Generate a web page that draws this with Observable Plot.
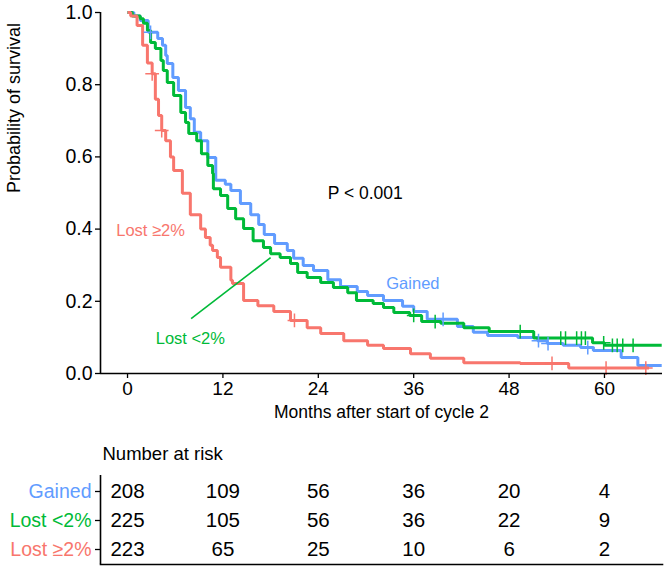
<!DOCTYPE html>
<html>
<head>
<meta charset="utf-8">
<script src="https://cdn.jsdelivr.net/npm/d3@7"></script>
<script src="https://cdn.jsdelivr.net/npm/@observablehq/plot@0.6"></script>
<style>
  html, body { margin: 0; padding: 0; background: #fff; }
  #chart { width: 665px; height: 568px; overflow: hidden; }
  #chart svg { display: block; }
</style>
</head>
<body>
<div id="chart"></div>
<script>
// ---------- data ----------
const groups = ["Gained", "Lost <2%", "Lost ≥2%"];
const colors = ["#619CFF", "#00BA38", "#F8766D"];

const gainedT = [0, 0.8, 1.6, 2.6, 3.8, 4.4, 4.8, 5.0, 5.7, 6.4, 7.3, 7.9, 8.4, 9.2, 10.1, 11.1, 12.3, 13.0, 14.2, 15.5, 16.5, 17.2, 18.5, 20.1, 20.9, 22.1, 23.4, 25.2, 26.8, 28.9, 30.2, 32.2, 34.6, 36.0, 37.7, 41.5, 43.5, 45.3, 49.1, 51.6, 52.8, 54.8, 57.0, 58.6, 62.1, 64.2, 67.2];
const gainedS = [1.0, 0.99, 0.978, 0.945, 0.928, 0.909, 0.881, 0.859, 0.82, 0.784, 0.737, 0.706, 0.668, 0.645, 0.598, 0.535, 0.524, 0.507, 0.471, 0.44, 0.413, 0.385, 0.36, 0.341, 0.319, 0.299, 0.285, 0.26, 0.241, 0.227, 0.216, 0.202, 0.186, 0.172, 0.15, 0.13, 0.114, 0.105, 0.10, 0.091, 0.083, 0.078, 0.072, 0.064, 0.044, 0.022, 0.022];
const gainedCensor = [2.9, 39.7, 51.7, 52.9, 57.9];

const lostSmallT = [0, 0.6, 1.6, 2.0, 2.5, 2.9, 3.5, 4.2, 4.5, 5.0, 5.8, 6.7, 7.3, 7.7, 8.7, 9.3, 10.1, 10.7, 10.8, 11.7, 12.6, 13.6, 14.6, 15.8, 17.1, 18.0, 19.2, 20.5, 21.4, 22.6, 24.3, 25.9, 27.7, 28.8, 30.9, 32.2, 33.5, 35.5, 37.0, 39.4, 42.3, 45.5, 51.1, 58.5, 60.0, 67.2];
const lostSmallS = [1.0, 0.99, 0.983, 0.97, 0.95, 0.917, 0.90, 0.867, 0.839, 0.806, 0.77, 0.723, 0.695, 0.665, 0.645, 0.609, 0.576, 0.554, 0.512, 0.493, 0.457, 0.429, 0.402, 0.368, 0.349, 0.332, 0.321, 0.305, 0.28, 0.266, 0.252, 0.238, 0.224, 0.202, 0.194, 0.183, 0.169, 0.161, 0.144, 0.139, 0.127, 0.116, 0.098, 0.085, 0.078, 0.078];
const lostSmallCensor = [36.0, 38.7, 49.4, 54.5, 55.1, 56.5, 57.1, 57.6, 59.9, 61.0, 61.6, 62.3, 63.6];

const lostLargeT = [0, 0.4, 1.2, 1.9, 2.5, 3.1, 3.5, 3.9, 4.3, 4.8, 5.4, 5.8, 6.9, 7.9, 9.2, 9.8, 10.4, 10.7, 11.3, 11.7, 13.0, 13.2, 14.6, 16.4, 18.4, 20.5, 22.6, 24.3, 27.2, 30.2, 32.2, 35.6, 38.1, 42.3, 49.4, 55.5, 65.6];
const lostLargeS = [1.0, 0.99, 0.964, 0.909, 0.86, 0.83, 0.76, 0.715, 0.673, 0.645, 0.6, 0.562, 0.499, 0.44, 0.40, 0.377, 0.355, 0.341, 0.321, 0.294, 0.258, 0.249, 0.202, 0.188, 0.172, 0.147, 0.127, 0.111, 0.091, 0.078, 0.069, 0.055, 0.042, 0.030, 0.028, 0.015, 0.015];
const lostLargeCensor = [3.1, 4.3, 21.0, 53.4, 60.2, 65.2];

const riskTimes = [0, 12, 24, 36, 48, 60];
const riskGained = [208, 109, 56, 36, 20, 4];
const riskLostSmall = [225, 105, 56, 36, 22, 9];
const riskLostLarge = [223, 65, 25, 10, 6, 2];

const yTicks = [0, 0.2, 0.4, 0.6, 0.8, 1.0];
const pText = "P < 0.001";
const xTitle = "Months after start of cycle 2";
const yTitle = "Probability of survival";
const riskTitle = "Number at risk";

// ---------- build tables ----------
const xDomain = [-3.4, 67.3];
const FONT = "'Liberation Sans', Arial, Helvetica, sans-serif";
function pts(T, S) { return T.map((t, i) => ({t, s: S[i]})); }
function stepAt(T, S, t) { let v = S[0]; for (let i = 0; i < T.length; i++) if (T[i] <= t) v = S[i]; return v; }
function cens(T, S, C) { return C.map(t => ({t, s: stepAt(T, S, t)})); }

const series = [
  {pts: pts(gainedT, gainedS), c: cens(gainedT, gainedS, gainedCensor), color: colors[0]},
  {pts: pts(lostSmallT, lostSmallS), c: cens(lostSmallT, lostSmallS, lostSmallCensor), color: colors[1]},
  {pts: pts(lostLargeT, lostLargeS), c: cens(lostLargeT, lostLargeS, lostLargeCensor), color: colors[2]}
];

const labels = [
  {text: "Lost ≥2%", x: 2.9, y: 0.396, color: colors[2], size: 16.5},
  {text: "Lost <2%", x: 7.9, y: 0.097, color: colors[1], size: 16.5},
  {text: "Gained", x: 35.9, y: 0.249, color: colors[0], size: 16.5},
  {text: pText, x: 29.9, y: 0.5, color: "black", size: 17.5}
];
const pointer = [{x1: 8.0, y1: 0.152, x2: 18.0, y2: 0.321}];

const lineMarks = [];
for (const s of series) {
  lineMarks.push(Plot.line(s.pts, {x: "t", y: "s", stroke: s.color, strokeWidth: 3, curve: "step-after", strokeLinejoin: "miter", strokeLinecap: "butt"}));
}
for (const s of series) {
  lineMarks.push(Plot.dot(s.c, {x: "t", y: "s", symbol: "plus", r: 4.5, stroke: s.color, strokeWidth: 1.5}));
}

const main = Plot.plot({
  width: 665, height: 428,
  marginTop: 12, marginLeft: 100, marginRight: 3, marginBottom: 55,
  style: {fontFamily: FONT, fontSize: "19px", color: "black", background: "white"},
  x: {domain: xDomain},
  y: {domain: [0, 1]},
  marks: [
    Plot.axisX({ticks: riskTimes, tickSize: 5, tickPadding: 3, strokeWidth: 1.3, fontSize: 19, label: null}),
    Plot.axisY({ticks: yTicks, tickFormat: d3.format(".1f"), tickSize: 5, tickPadding: 3, strokeWidth: 1.3, fontSize: 19.5, label: null}),
    Plot.text([xTitle], {text: d => d, frameAnchor: "bottom", dy: 44, fontSize: 17.5, fill: "black"}),
    Plot.text([yTitle], {text: d => d, frameAnchor: "left", dx: -86, rotate: -90, fontSize: 18, fill: "black"}),
    ...lineMarks,
    Plot.link(pointer, {x1: "x1", y1: "y1", x2: "x2", y2: "y2", stroke: colors[1], strokeWidth: 1.6}),
    Plot.text(labels, {x: "x", y: "y", text: "text", fill: d => d.color, fontSize: d => d.size}),
    Plot.ruleX([xDomain[0]], {stroke: "black", strokeWidth: 1.6}),
    Plot.ruleY([0], {stroke: "black", strokeWidth: 1.6})
  ]
});

const risk = [];
riskTimes.forEach((t, i) => {
  risk.push({t, g: groups[0], n: riskGained[i]});
  risk.push({t, g: groups[1], n: riskLostSmall[i]});
  risk.push({t, g: groups[2], n: riskLostLarge[i]});
});

const table = Plot.plot({
  width: 665, height: 140,
  marginTop: 47, marginLeft: 100, marginRight: 3, marginBottom: 4,
  style: {fontFamily: FONT, fontSize: "20px", color: "black", background: "white"},
  x: {domain: xDomain, axis: null},
  y: {domain: groups, type: "point", padding: 0.5},
  color: {domain: groups, range: colors},
  marks: [
    Plot.axisY({tickSize: 5, tickFormat: () => "", strokeWidth: 1.3, label: null}),
    Plot.text(risk, {x: "t", y: "g", text: "n", fill: "black", fontSize: 20.5}),
    Plot.text(groups, {y: d => d, text: d => d, fill: d => d, frameAnchor: "left", dx: -9, textAnchor: "end", fontSize: 19.5}),
    Plot.text([riskTitle], {text: d => d, frameAnchor: "top-left", dx: 2, dy: -29, textAnchor: "start", fontSize: 18.5, fill: "black"}),
    Plot.ruleX([xDomain[0]], {stroke: "black", strokeWidth: 1.6}),
    Plot.frame({anchor: "bottom", stroke: "black", strokeWidth: 1.6})
  ]
});

const el = document.getElementById("chart");
el.appendChild(main);
el.appendChild(table);
</script>
</body>
</html>
